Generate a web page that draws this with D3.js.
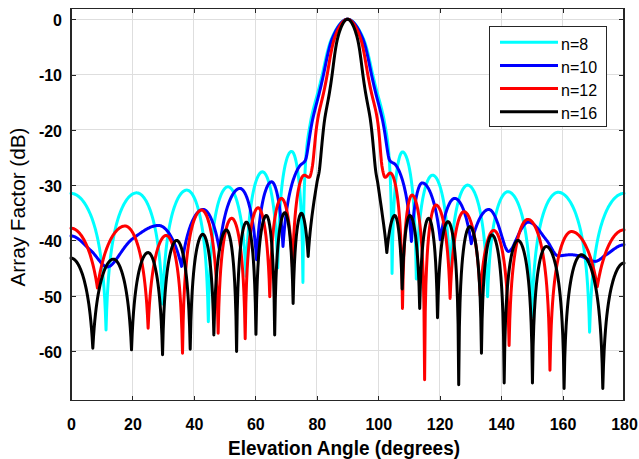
<!DOCTYPE html>
<html>
<head>
<meta charset="utf-8">
<script src="https://cdn.jsdelivr.net/npm/d3@7"></script>
<style>
html,body{margin:0;padding:0;background:#fff;}
svg{display:block;}
</style>
</head>
<body>
<svg id="chart" width="639" height="459"></svg>
<script>
// ---------- data ----------
const xTicks = [0, 20, 40, 60, 80, 100, 120, 140, 160, 180];
const yTicks = [0, -10, -20, -30, -40, -50, -60];
const seriesNames = ["n=8", "n=10", "n=12", "n=16"];

const n8Angle = [0, 11.4, 21.4, 29.8, 37.7, 44.7, 51.1, 57.0, 62.3, 67.3, 71.8, 75.5, 76.6, 77.9, 81.8, 84.9, 90, 95.1, 98.2, 102.1, 103.4, 104.5, 107.9, 112.4, 117.7, 123.3, 129.1, 135.6, 142.2, 150.0, 158.6, 168.8, 180];
const n8Db    = [-31.5, -56.2, -31.4, -51.5, -30.9, -54.7, -30.3, -46.5, -27.6, -45, -23.9, -47.6, -24, -18.8, -10, -3.4, 0, -3.4, -10, -18.8, -24, -46, -24, -47, -28.2, -46.5, -30, -50.2, -31.2, -53.8, -31.3, -56.6, -31.5];

const n10Angle = [0, 6.2, 11.8, 20.3, 28.5, 36.0, 43.0, 48.3, 55.0, 60.4, 65.3, 69.0, 74.5, 76.3, 78.4, 82.2, 85.1, 90, 94.9, 97.8, 101.6, 103.7, 105.6, 110.8, 114.3, 120.2, 124.9, 130.3, 136.0, 142.4, 148.9, 154.7, 158.5, 162.5, 165.5, 170.6, 174.2, 180];
const n10Db    = [-39.2, -41.7, -44.8, -39.6, -37.3, -44.7, -34.4, -41.7, -30.6, -43.5, -29.4, -41.1, -26.5, -25.5, -18.8, -10, -3.4, 0, -3.4, -10, -18.8, -25.5, -26.3, -40.2, -29.6, -39.9, -32.4, -40.6, -34.4, -42, -36.7, -39.9, -42.8, -42.6, -42.8, -43.8, -42.6, -40.8];

const n12Angle = [0, 8.6, 17.6, 25.1, 31.0, 36.3, 42.5, 47.9, 52.3, 56.7, 60.9, 64.7, 68.5, 72.1, 75.9, 77.5, 78.6, 80.1, 83.4, 85.8, 90, 94.2, 96.6, 99.9, 101.2, 102.3, 103.9, 107.9, 111.0, 115.1, 118.8, 123.4, 127.9, 133.2, 137.6, 142.6, 148.7, 155.9, 162.9, 171.3, 180];
const n12Db    = [-37.8, -48.6, -37.4, -55.9, -39.1, -60.4, -34.5, -56.8, -36.0, -57.8, -34.1, -50.2, -32.4, -45, -28.2, -28.6, -26.5, -18.8, -10, -3.4, 0, -3.4, -10, -18.8, -26.5, -28.6, -27.8, -52.3, -31.8, -65.2, -33.6, -50.5, -34.8, -50, -38.2, -59, -36.2, -63.5, -38.4, -48.4, -38.1];

const n16Angle = [0, 7.1, 13.8, 19.7, 25.1, 29.8, 34.4, 38.8, 42.9, 46.5, 50.6, 53.9, 57.1, 60.2, 63.6, 66.3, 69.6, 72.3, 75.0, 77.2, 80.1, 81.0, 82.4, 85.0, 86.8, 90, 93.2, 95.0, 97.6, 99.0, 99.9, 102.8, 105.4, 107.8, 110.3, 113.5, 116.4, 119.3, 122.7, 126.2, 129.8, 133.6, 137.0, 141.0, 145.5, 150.2, 154.7, 160.5, 166.1, 173.1, 180];
const n16Db    = [-43.2, -59.5, -43.4, -59.8, -42.2, -60.7, -40.0, -59.7, -38.9, -57.1, -38.1, -60.1, -36.7, -57.0, -35.5, -57.1, -35.0, -51.4, -35.1, -42.9, -29.4, -26.6, -18.8, -10, -3.4, 0, -3.4, -10, -18.8, -26.6, -29.8, -42.2, -35.5, -48.8, -35.5, -52.3, -36.0, -54.0, -36.6, -66.1, -37.5, -60.4, -39.0, -65.8, -40.0, -65.8, -41.1, -66.8, -42.6, -66.8, -44.1];

// ---------- layout / style ----------
const W = 639, H = 459;
const plot = {left: 71, right: 624, top: 8.2, bottom: 400.7};
const colors = ["#00ffff", "#0000ff", "#ff0000", "#000000"];
const axisColor = "#262626";
const gridColor = "#dedede";
const fontFam = "'Liberation Sans', Arial, sans-serif";

const series = [
  {name: seriesNames[0], angle: n8Angle, db: n8Db, color: colors[0]},
  {name: seriesNames[1], angle: n10Angle, db: n10Db, color: colors[1]},
  {name: seriesNames[2], angle: n12Angle, db: n12Db, color: colors[2]},
  {name: seriesNames[3], angle: n16Angle, db: n16Db, color: colors[3]}
];

const svg = d3.select("#chart");
svg.append("rect").attr("width", W).attr("height", H).attr("fill", "#fff");

const x = d3.scaleLinear().domain([0, 180]).range([plot.left, plot.right]);
const y = d3.scaleLinear().domain([-69, 2]).range([plot.bottom, plot.top]);

// grid
const grid = svg.append("g").attr("shape-rendering", "crispEdges");
grid.selectAll("line.vx").data(xTicks).join("line")
  .attr("x1", d => x(d)).attr("x2", d => x(d))
  .attr("y1", plot.top).attr("y2", plot.bottom)
  .attr("stroke", gridColor).attr("stroke-width", 1);
grid.selectAll("line.hy").data(yTicks).join("line")
  .attr("x1", plot.left).attr("x2", plot.right)
  .attr("y1", d => y(d)).attr("y2", d => y(d))
  .attr("stroke", gridColor).attr("stroke-width", 1);

// curve: monotone cubic interpolation done in linear amplitude, drawn in dB
function amplitudeCurve(yScale) {
  return function(context) {
    let pts = [];
    function endTan(s, mo) {
      let t = (3 * s - mo) / 2;
      if (Math.sign(t) !== Math.sign(s)) t = 0;
      else if (Math.abs(t) > 3 * Math.abs(s)) t = 3 * s;
      return t;
    }
    return {
      areaStart() {}, areaEnd() {},
      lineStart() { pts = []; },
      point(px, py) { pts.push([+px, +py]); },
      lineEnd() {
        const n = pts.length;
        if (!n) return;
        const xs = pts.map(p => p[0]);
        const db = pts.map(p => yScale.invert(p[1]));
        const amp = db.map(v => Math.pow(10, v / 20));
        const sec = [];
        for (let i = 0; i < n - 1; i++) sec.push((amp[i + 1] - amp[i]) / (xs[i + 1] - xs[i]));
        const cusp = db.map((v, i) => i > 0 && i < n - 1 && db[i - 1] - v > 6 && db[i + 1] - v > 6);
        const m = new Array(n).fill(0);
        for (let i = 1; i < n - 1; i++) {
          if (cusp[i]) continue;
          const h0 = xs[i] - xs[i - 1], h1 = xs[i + 1] - xs[i];
          const s0 = sec[i - 1], s1 = sec[i];
          const p = (s0 * h1 + s1 * h0) / (h0 + h1);
          m[i] = (Math.sign(s0) + Math.sign(s1)) * Math.min(Math.abs(s0), Math.abs(s1), 0.5 * Math.abs(p)) || 0;
        }
        const mL = m.slice(), mR = m.slice();
        for (let i = 1; i < n - 1; i++) {
          if (!cusp[i]) continue;
          mL[i] = endTan(sec[i - 1], cusp[i - 1] ? sec[i - 1] : m[i - 1]);
          mR[i] = endTan(sec[i], cusp[i + 1] ? sec[i] : m[i + 1]);
        }
        context.moveTo(xs[0], pts[0][1]);
        for (let i = 0; i < n - 1; i++) {
          const x0 = xs[i], x1 = xs[i + 1], h = x1 - x0;
          const a0 = amp[i], a1 = amp[i + 1], m0 = mR[i], m1 = mL[i + 1];
          const steps = Math.max(8, Math.ceil(h * 1.5));
          for (let k = 1; k <= steps; k++) {
            const t = k / steps, t2 = t * t, t3 = t2 * t;
            const A = (2 * t3 - 3 * t2 + 1) * a0 + (t3 - 2 * t2 + t) * h * m0 + (-2 * t3 + 3 * t2) * a1 + (t3 - t2) * h * m1;
            const v = 20 * Math.log10(Math.max(A, 1e-6));
            context.lineTo(x0 + t * h, yScale(v));
          }
        }
      }
    };
  };
}

const line = d3.line()
  .x(d => x(d[0]))
  .y(d => y(d[1]))
  .curve(amplitudeCurve(y));

const curves = svg.append("g");
series.forEach(s => {
  const pts = s.angle.map((a, i) => [a, s.db[i]]);
  curves.append("path")
    .attr("d", line(pts))
    .attr("fill", "none")
    .attr("stroke", s.color)
    .attr("stroke-width", 3)
    .attr("stroke-linejoin", "round")
    .attr("stroke-linecap", "round");
});

// axes (ticks inward on all four sides)
const axB = svg.append("g").attr("transform", `translate(0,${plot.bottom})`)
  .call(d3.axisBottom(x).tickValues(xTicks).tickSizeInner(-5).tickSizeOuter(0).tickPadding(18));
const axL = svg.append("g").attr("transform", `translate(${plot.left},0)`)
  .call(d3.axisLeft(y).tickValues(yTicks).tickSizeInner(-5).tickSizeOuter(0).tickPadding(9).tickFormat(d3.format("d")));
const axT = svg.append("g").attr("transform", `translate(0,${plot.top})`)
  .call(d3.axisTop(x).tickValues(xTicks).tickSizeInner(-5).tickSizeOuter(0).tickFormat(""));
const axR = svg.append("g").attr("transform", `translate(${plot.right},0)`)
  .call(d3.axisRight(y).tickValues(yTicks).tickSizeInner(-5).tickSizeOuter(0).tickFormat(""));

[axB, axL, axT, axR].forEach(g => {
  g.select(".domain").remove();
  g.selectAll(".tick line").attr("stroke", axisColor).attr("shape-rendering", "crispEdges");
  g.selectAll("text").attr("fill", "#000").attr("font-family", fontFam)
    .attr("font-size", 16).attr("font-weight", "bold");
});
axL.selectAll("text").text(d => String(d).replace("\u2212", "-")).attr("dy", "0.4em");

svg.append("rect")
  .attr("x", plot.left).attr("y", plot.top)
  .attr("width", plot.right - plot.left).attr("height", plot.bottom - plot.top)
  .attr("fill", "none").attr("stroke", axisColor).attr("stroke-width", 1.2)
  .attr("shape-rendering", "crispEdges");

// axis titles
svg.append("text")
  .attr("x", 344).attr("y", 455)
  .attr("text-anchor", "middle")
  .attr("font-family", fontFam).attr("font-size", 20).attr("font-weight", "bold")
  .attr("textLength", 232).attr("lengthAdjust", "spacingAndGlyphs")
  .attr("fill", "#000")
  .text("Elevation Angle (degrees)");

svg.append("text")
  .attr("transform", "translate(25,207) rotate(-90)")
  .attr("text-anchor", "middle")
  .attr("font-family", fontFam).attr("font-size", 20)
  .attr("textLength", 159).attr("lengthAdjust", "spacingAndGlyphs")
  .attr("fill", "#000")
  .text("Array Factor (dB)");

// legend
const leg = svg.append("g");
leg.append("rect")
  .attr("x", 489).attr("y", 26.7).attr("width", 117).attr("height", 100)
  .attr("fill", "#fff").attr("stroke", axisColor).attr("stroke-width", 1)
  .attr("shape-rendering", "crispEdges");
const rowY = d3.scalePoint().domain(seriesNames).range([42.3, 111.7]);
series.forEach(s => {
  const yy = rowY(s.name);
  leg.append("line")
    .attr("x1", 500).attr("x2", 558).attr("y1", yy).attr("y2", yy)
    .attr("stroke", s.color).attr("stroke-width", 3);
  leg.append("text")
    .attr("x", 561).attr("y", yy + 7.5)
    .attr("font-family", fontFam).attr("font-size", 16)
    .attr("fill", "#000")
    .text(s.name);
});
</script>
</body>
</html>
